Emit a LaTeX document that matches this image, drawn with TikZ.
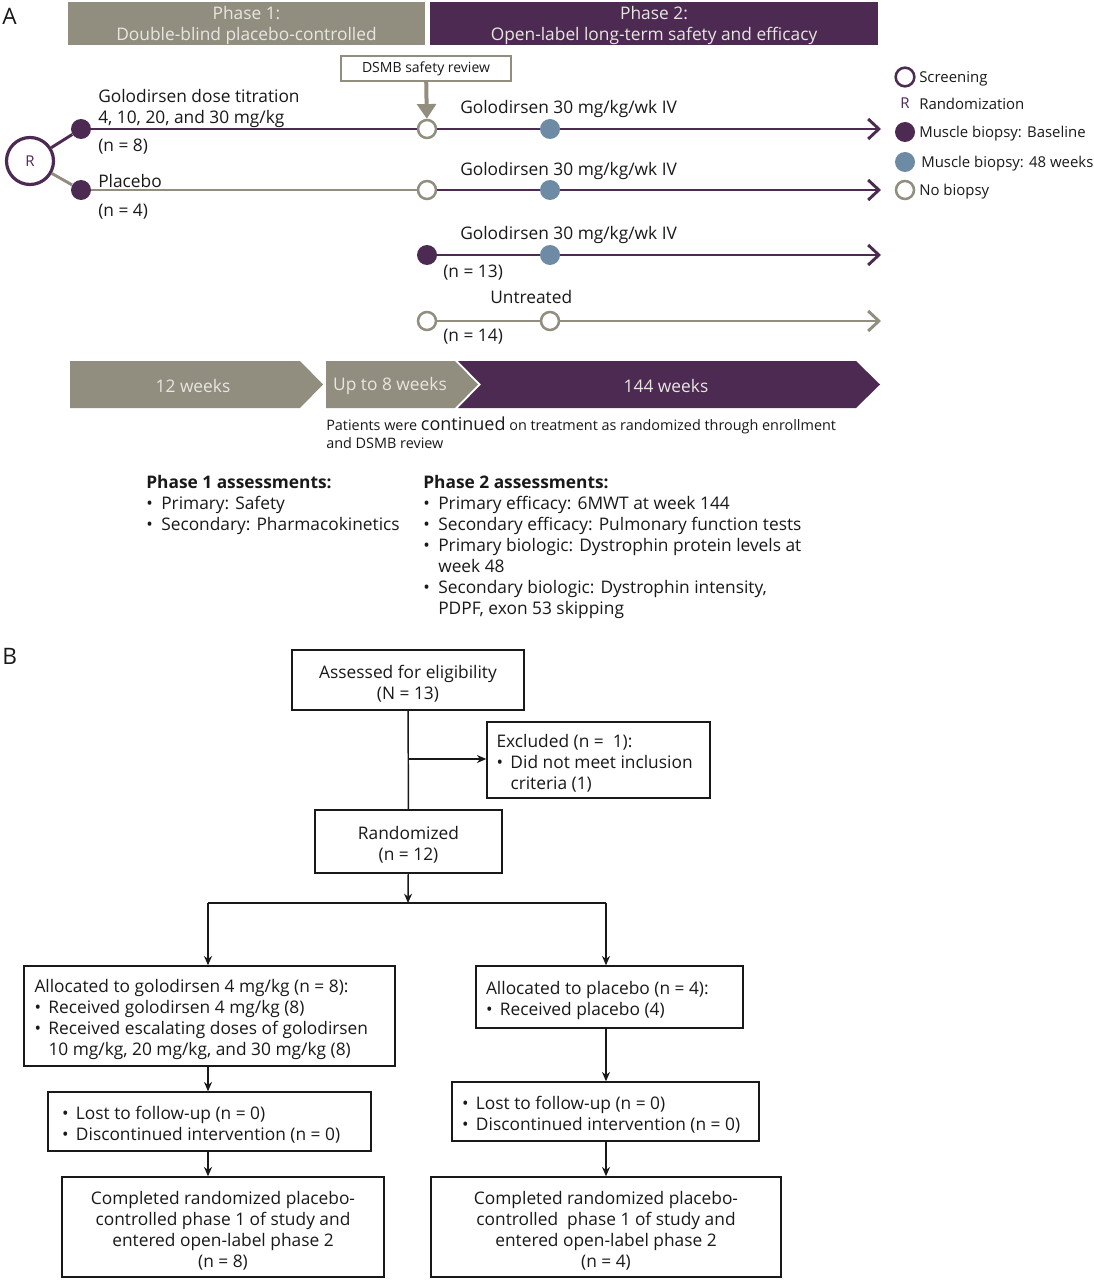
\documentclass[tikz,border=0pt]{standalone}
\usepackage{fontspec}
\setmainfont{Open Sans}
\usetikzlibrary{arrows.meta}
\definecolor{pur}{RGB}{76,42,82}
\definecolor{gry}{RGB}{145,142,128}
\definecolor{blu}{RGB}{110,139,166}
\definecolor{lt}{RGB}{232,230,224}
\definecolor{ink}{RGB}{25,25,25}
\newcommand\fsA{\fontsize{13}{15.75}\selectfont}
\newcommand\fsS{\fontsize{10.8}{13.5}\selectfont}
\newcommand\fsD{\fontsize{10.5}{12}\selectfont}
\newcommand\fsL{\fontsize{11.2}{13}\selectfont}
\newcommand\fsBig{\fontsize{17}{20}\selectfont}
\newcommand\bul[1]{\makebox[#1][l]{\textbullet}}
\newcommand\up{\rule{0pt}{15pt}}
\begin{document}
\begin{tikzpicture}[x=0.75pt,y=-0.75pt,
  txt/.style={font=\fsA,text=ink,inner sep=0,anchor=mid west},
  ltxt/.style={font=\fsL,text=ink,inner sep=0,anchor=mid west},
  pline/.style={draw=pur,line width=2.2pt},
  gline/.style={draw=gry,line width=2.2pt},
  chev/.style={-{Straight Barb[length=8pt,width=15pt]}},
  opencirc/.style={circle,draw=gry,line width=1.9pt,fill=white,minimum size=13.5pt,inner sep=0},
  fillp/.style={circle,fill=pur,minimum size=15pt,inner sep=0},
  fillb/.style={circle,fill=blu,minimum size=15pt,inner sep=0},
  hdr/.style={inner sep=0,font=\fsA,text=lt,align=center},
  fbox/.style={draw=ink,line width=1.1pt,inner sep=0,font=\fsA,text=ink},
  farrow/.style={draw=ink,line width=1.1pt,-{Stealth[length=7pt,width=6pt]}},
  fline/.style={draw=ink,line width=1.1pt},
  chevtxt/.style={inner sep=0,font=\fsA,text=lt}
]
\useasboundingbox (0,0) rectangle (1093,1280);
\fill[white] (0,0) rectangle (1093,1280);

% ---------- Panel A ----------
\node[font=\fsBig,text=ink,inner sep=0,anchor=mid west] (labA) at (2,21) {A};
\node[fill=gry,inner sep=0,minimum width=357*0.75pt,minimum height=43*0.75pt] (ph1) at (246.5,23.5) {};
\node[hdr] (ph1t) at (246.5,26) {Phase 1:\\Double-blind placebo-controlled};
\node[fill=pur,inner sep=0,minimum width=448*0.75pt,minimum height=43*0.75pt] (ph2) at (654,23.5) {};
\node[hdr] (ph2t) at (654,26) {Phase 2:\\Open-label long-term safety and efficacy};

\node[draw=gry,line width=1.8pt,fill=white,inner sep=0,minimum width=170*0.75pt,minimum height=25*0.75pt,font=\fsD,text=ink] (dsmb) at (426,68.5) {DSMB safety review};

% R circle
\node[circle,draw=pur,line width=2.4pt,minimum size=47*0.75pt,inner sep=0,fill=white,text=pur,font=\fsL] (r) at (30,161) {R};

% row 1
\node[fillp] (d1) at (81,129) {};
\node[opencirc] (c1) at (427,129) {};
\node[fillb] (b1) at (550,129) {};
\coordinate (e1) at (881,129);
% row 2
\node[fillp] (d2) at (81,190) {};
\node[opencirc] (c2) at (427,190) {};
\node[fillb] (b2) at (550,190) {};
\coordinate (e2) at (881,190);
% row 3
\node[fillp] (d3) at (427,255) {};
\node[fillb] (b3) at (550,255) {};
\coordinate (e3) at (881,255);
% row 4
\node[opencirc] (c4) at (427,321) {};
\node[opencirc] (c4b) at (550,321) {};
\coordinate (e4) at (881,321);

\draw[pline] (r) -- (d1);
\draw[gline] (r) -- (d2);
\draw[pline] (d1) -- (c1);
\draw[pline] (c1) -- (b1);
\draw[pline,chev] (b1) -- (e1);
\draw[gline] (d2) -- (c2);
\draw[pline] (c2) -- (b2);
\draw[pline,chev] (b2) -- (e2);
\draw[pline] (d3) -- (b3);
\draw[pline,chev] (b3) -- (e3);
\draw[gline] (c4) -- (c4b);
\draw[gline,chev] (c4b) -- (e4);

\draw[draw=gry,line width=3pt,-{Triangle[length=11pt,width=14pt]}] (dsmb) -- (c1);

\node[txt] (t1a) at (98,99) {Golodirsen dose titration};
\node[txt] (t1b) at (98,120) {4, 10, 20, and 30 mg/kg};
\node[txt] (t1c) at (98,148) {(n = 8)};
\node[txt] (t2a) at (98,184) {Placebo};
\node[txt] (t2b) at (98,213) {(n = 4)};
\node[txt] (g1) at (460,110) {Golodirsen 30 mg/kg/wk IV};
\node[txt] (g2) at (460,172) {Golodirsen 30 mg/kg/wk IV};
\node[txt] (g3) at (460,236) {Golodirsen 30 mg/kg/wk IV};
\node[txt] (n13) at (443,274) {(n = 13)};
\node[txt] (unt) at (490,300) {Untreated};
\node[txt] (n14) at (443,338) {(n = 14)};

% legend
\node[circle,draw=pur,line width=1.9pt,fill=white,minimum size=14pt,inner sep=0] (lg1) at (905,77) {};
\node[ltxt] (lt1) at (919,79) {Screening};
\node[font=\fsL,text=pur,inner sep=0] (lg2) at (905,103) {R};
\node[ltxt] (lt2) at (919,106) {Randomization};
\node[fillp] (lg3) at (905,132) {};
\node[ltxt] (lt3) at (919,134) {Muscle biopsy: Baseline};
\node[fillb] (lg4) at (905,162) {};
\node[ltxt] (lt4) at (921,164) {Muscle biopsy: 48 weeks};
\node[opencirc] (lg5) at (905,190) {};
\node[ltxt] (lt5) at (919,192) {No biopsy};

% timeline chevrons
\fill[gry] (70,361) -- (300,361) -- (323,384.5) -- (300,408) -- (70,408) -- cycle;
\fill[gry] (326,361) -- (455,361) -- (478,384.5) -- (455,408) -- (326,408) -- cycle;
\fill[pur] (458,361) -- (856,361) -- (880,384.5) -- (856,408) -- (458,408) -- (481,384.5) -- cycle;
\node[chevtxt] (w12) at (193,386) {12 weeks};
\node[chevtxt] (w8) at (390,386) {Up to 8 weeks};
\node[chevtxt] (w144) at (666,386) {144 weeks};

\node[font=\fsS,text=ink,inner sep=0,anchor=north west,align=flush left] (pat) at (326,417) {Patients were {\fontsize{13.5}{13.5}\selectfont continued} on treatment as randomized through enrollment\\and DSMB review};

\node[font=\fsA,text=ink,inner sep=0,anchor=north west,align=flush left] (as1) at (146,475) {{\bfseries Phase 1 assessments:}\\\bul{11.25pt}Primary: Safety\\\bul{11.25pt}Secondary: Pharmacokinetics};
\node[font=\fsA,text=ink,inner sep=0,anchor=north west,align=flush left] (as2) at (423,475) {{\bfseries Phase 2 assessments:}\\\bul{11.25pt}Primary efficacy: 6MWT at week 144\\\bul{11.25pt}Secondary efficacy: Pulmonary function tests\\\bul{11.25pt}Primary biologic: Dystrophin protein levels at\\\hspace*{11.25pt}week 48\\\bul{11.25pt}Secondary biologic: Dystrophin intensity,\\\hspace*{11.25pt}PDPF, exon 53 skipping};

% ---------- Panel B ----------
\node[font=\fsBig,text=ink,inner sep=0,anchor=mid west] (labB) at (2,661) {B};

\node[fbox,minimum width=232*0.75pt,minimum height=60*0.75pt,align=center] (assess) at (408,680) {\up Assessed for eligibility\\(N = 13)};
\node[fbox,minimum width=223*0.75pt,minimum height=76*0.75pt,text width=204*0.75pt,align=flush left] (excl) at (598.5,760) {\up Excluded (n =\ \ 1):\\\bul{10.5pt}Did not meet inclusion\\\hspace*{10.5pt}criteria (1)};
\node[fbox,minimum width=187*0.75pt,minimum height=63*0.75pt,align=center] (rand) at (408.5,841.5) {\up Randomized\\(n = 12)};
\node[fbox,minimum width=371*0.75pt,minimum height=100*0.75pt,text width=350*0.75pt,align=flush left] (allocL) at (209.5,1016) {\up Allocated to golodirsen 4 mg/kg (n = 8):\\\bul{10.5pt}Received golodirsen 4 mg/kg (8)\\\bul{10.5pt}Received escalating doses of golodirsen\\\hspace*{10.5pt}10 mg/kg, 20 mg/kg, and 30 mg/kg (8)};
\node[fbox,minimum width=267*0.75pt,minimum height=62*0.75pt,text width=247*0.75pt,align=flush left] (allocR) at (609.5,997) {\up Allocated to placebo (n = 4):\\\bul{10.5pt}Received placebo (4)};
\node[fbox,minimum width=323*0.75pt,minimum height=59*0.75pt,text width=295*0.75pt,align=flush left] (lostL) at (209.5,1121.5) {\up\bul{10.5pt}Lost to follow-up (n = 0)\\\bul{10.5pt}Discontinued intervention (n = 0)};
\node[fbox,minimum width=307*0.75pt,minimum height=59*0.75pt,text width=287*0.75pt,align=flush left] (lostR) at (605.5,1111.5) {\up\bul{10.5pt}Lost to follow-up (n = 0)\\\bul{10.5pt}Discontinued intervention (n = 0)};
\node[fbox,minimum width=322*0.75pt,minimum height=100*0.75pt,align=center] (complL) at (223,1227) {\up Completed randomized placebo-\\controlled phase 1 of study and\\entered open-label phase 2\\(n = 8)};
\node[fbox,minimum width=350*0.75pt,minimum height=100*0.75pt,align=center] (complR) at (606,1227) {\up Completed randomized placebo-\\controlled\ \ phase 1 of study and\\entered open-label phase 2\\(n = 4)};

\coordinate (j1) at (408,759);
\coordinate (split) at (408,903);
\coordinate (sL) at (208,903);
\coordinate (sR) at (606,903);
\draw[fline] (assess) -- (rand);
\draw[farrow] (j1) -- (j1 -| excl.west);
\draw[farrow] (rand) -- (split);
\draw[fline] (sL) -- (sR);
\draw[farrow] (sL) -- (sL |- allocL.north);
\draw[farrow] (sR) -- (sR |- allocR.north);
\draw[farrow] (sL |- allocL.south) -- (sL |- lostL.north);
\draw[farrow] (sL |- lostL.south) -- (sL |- complL.north);
\draw[farrow] (sR |- allocR.south) -- (sR |- lostR.north);
\draw[farrow] (sR |- lostR.south) -- (sR |- complR.north);
\end{tikzpicture}
\end{document}
